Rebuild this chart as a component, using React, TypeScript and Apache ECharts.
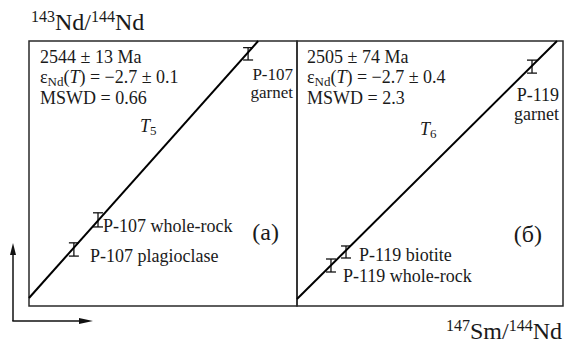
import React, { useEffect, useRef } from "react";
import * as echarts from "echarts";

// ---- data (no ticks in the picture: plausible ratio units) ----
const X_MIN = 0.05;
const X_MAX = 0.45;
const Y_MIN = 0.509;
const Y_MAX = 0.515;

// Panel (a): P-107
const isoAX = [0.05, 0.392];
const isoAY = [0.509181, 0.515];
const samplesA = ["P-107 garnet", "P-107 whole-rock", "P-107 plagioclase"];
const smA = [0.377, 0.153, 0.117];
const ndA = [0.51471, 0.51095, 0.51028];
const errA = [0.00014, 0.00016, 0.00015];

// Panel (б): P-119
const isoBX = [0.05, 0.441];
const isoBY = [0.509158, 0.515];
const samplesB = ["P-119 garnet", "P-119 biotite", "P-119 whole-rock"];
const smB = [0.4034, 0.1237, 0.1011];
const ndB = [0.51442, 0.510223, 0.509917];
const errB = [0.000147, 0.000136, 0.000147];

const FONT = "'Liberation Serif', 'Times New Roman', Times, serif";
const TXT = "#1a1a1a";
const FS = 18;

function errorBarItem(params: any, api: any) {
  const x = api.value(0);
  const y = api.value(1);
  const e = api.value(2);
  const top = api.coord([x, y + e]);
  const bot = api.coord([x, y - e]);
  const hw = 5;
  const st = { stroke: "#111", lineWidth: 1.3 };
  return {
    type: "group",
    children: [
      { type: "line", shape: { x1: top[0], y1: top[1], x2: bot[0], y2: bot[1] }, style: st },
      { type: "line", shape: { x1: top[0] - hw, y1: top[1], x2: top[0] + hw, y2: top[1] }, style: st },
      { type: "line", shape: { x1: bot[0] - hw, y1: bot[1], x2: bot[0] + hw, y2: bot[1] }, style: st },
    ],
  };
}

function plain(text: string, x: number, y: number, fontSize = FS, align = "left") {
  return {
    type: "text",
    x,
    y,
    style: {
      text,
      font: `${fontSize}px ${FONT}`,
      fill: TXT,
      align,
      verticalAlign: "middle",
    },
    silent: true,
  };
}

function rich(text: string, x: number, y: number, richDef: any, align = "left") {
  return {
    type: "text",
    x,
    y,
    style: { text, rich: richDef, fill: TXT, align, verticalAlign: "middle", fontFamily: FONT },
    silent: true,
  };
}

const epsRich = {
  t: { fontSize: FS, fontFamily: FONT, color: TXT, lineHeight: 14, verticalAlign: "top" },
  i: { fontSize: FS, fontFamily: FONT, fontStyle: "italic", color: TXT, lineHeight: 14, verticalAlign: "top" },
  sub: { fontSize: 13, fontFamily: FONT, color: TXT, lineHeight: 20, verticalAlign: "bottom" },
};
const ratioRich = {
  b: { fontSize: 24, fontFamily: FONT, color: TXT, lineHeight: 28 },
  sup: { fontSize: 16, fontFamily: FONT, color: TXT, lineHeight: 15, verticalAlign: "top" },
};

export default function App() {
  const ref = useRef<HTMLDivElement>(null);
  useEffect(() => {
    document.body.style.margin = "0";
    const chart = echarts.init(ref.current!, null, { renderer: "svg" });
    const axisCommon = {
      type: "value",
      axisLine: { show: false },
      axisTick: { show: false },
      axisLabel: { show: false },
      splitLine: { show: false },
    };
    const option: any = {
      animation: false,
      backgroundColor: "#fff",
      grid: [
        { left: 29, top: 41, width: 268, height: 265, show: true, borderColor: "#2a2a2a", borderWidth: 1.5, backgroundColor: "transparent" },
        { left: 297, top: 41, width: 266, height: 265, show: true, borderColor: "#2a2a2a", borderWidth: 1.5, backgroundColor: "transparent" },
      ],
      xAxis: [
        { ...axisCommon, gridIndex: 0, min: X_MIN, max: X_MAX },
        { ...axisCommon, gridIndex: 1, min: X_MIN, max: X_MAX },
      ],
      yAxis: [
        { ...axisCommon, gridIndex: 0, min: Y_MIN, max: Y_MAX },
        { ...axisCommon, gridIndex: 1, min: Y_MIN, max: Y_MAX },
      ],
      series: [
        {
          type: "line",
          xAxisIndex: 0,
          yAxisIndex: 0,
          data: isoAX.map((x, i) => [x, isoAY[i]]),
          showSymbol: false,
          lineStyle: { color: "#000", width: 2 },
          silent: true,
        },
        {
          type: "line",
          xAxisIndex: 1,
          yAxisIndex: 1,
          data: isoBX.map((x, i) => [x, isoBY[i]]),
          showSymbol: false,
          lineStyle: { color: "#000", width: 2 },
          silent: true,
        },
        {
          type: "custom",
          name: "P-107",
          xAxisIndex: 0,
          yAxisIndex: 0,
          renderItem: errorBarItem,
          data: samplesA.map((n, i) => ({ name: n, value: [smA[i], ndA[i], errA[i]] })),
          silent: true,
        },
        {
          type: "custom",
          name: "P-119",
          xAxisIndex: 1,
          yAxisIndex: 1,
          renderItem: errorBarItem,
          data: samplesB.map((n, i) => ({ name: n, value: [smB[i], ndB[i], errB[i]] })),
          silent: true,
        },
      ],
      graphic: [
        // axis titles
        rich("{sup|143}{b|Nd/}{sup|144}{b|Nd}", 31, 22, ratioRich),
        rich("{sup|147}{b|Sm/}{sup|144}{b|Nd}", 562, 331, ratioRich, "right"),
        // panel (a)
        plain("2544 ± 13 Ma", 40, 57),
        rich("{t|ε}{sub|Nd}{t|(}{i|T}{t|) = −2.7 ± 0.1}", 40, 78, epsRich),
        plain("MSWD = 0.66", 40, 98),
        rich("{i|T}{sub|5}", 140, 127, epsRich),
        plain("P-107", 293, 74, 17, "right"),
        plain("garnet", 293, 92, 17, "right"),
        plain("P-107 whole-rock", 103, 226),
        plain("P-107 plagioclase", 90, 256),
        plain("(a)", 279, 232, 24, "right"),
        // panel (б)
        plain("2505 ± 74 Ma", 307, 57),
        rich("{t|ε}{sub|Nd}{t|(}{i|T}{t|) = −2.7 ± 0.4}", 307, 78, epsRich),
        plain("MSWD = 2.3", 307, 98),
        rich("{i|T}{sub|6}", 420, 130, epsRich),
        plain("P-119", 559, 95, FS, "right"),
        plain("garnet", 559, 114, FS, "right"),
        plain("P-119 biotite", 359, 255),
        plain("P-119 whole-rock", 343, 276),
        plain("(б)", 542, 234, 24, "right"),
        // direction arrows
        { type: "line", shape: { x1: 13, y1: 321, x2: 13, y2: 250 }, style: { stroke: "#111", lineWidth: 1.5 }, silent: true },
        { type: "polygon", shape: { points: [[13, 243], [10, 255], [16, 255]] }, style: { fill: "#111" }, silent: true },
        { type: "line", shape: { x1: 12.3, y1: 321, x2: 86, y2: 321 }, style: { stroke: "#111", lineWidth: 1.5 }, silent: true },
        { type: "polygon", shape: { points: [[93, 321], [79, 318], [79, 324]] }, style: { fill: "#111" }, silent: true },
      ],
    };
    chart.setOption(option);
    return () => chart.dispose();
  }, []);
  return <div ref={ref} style={{ width: 564, height: 354 }} />;
}
